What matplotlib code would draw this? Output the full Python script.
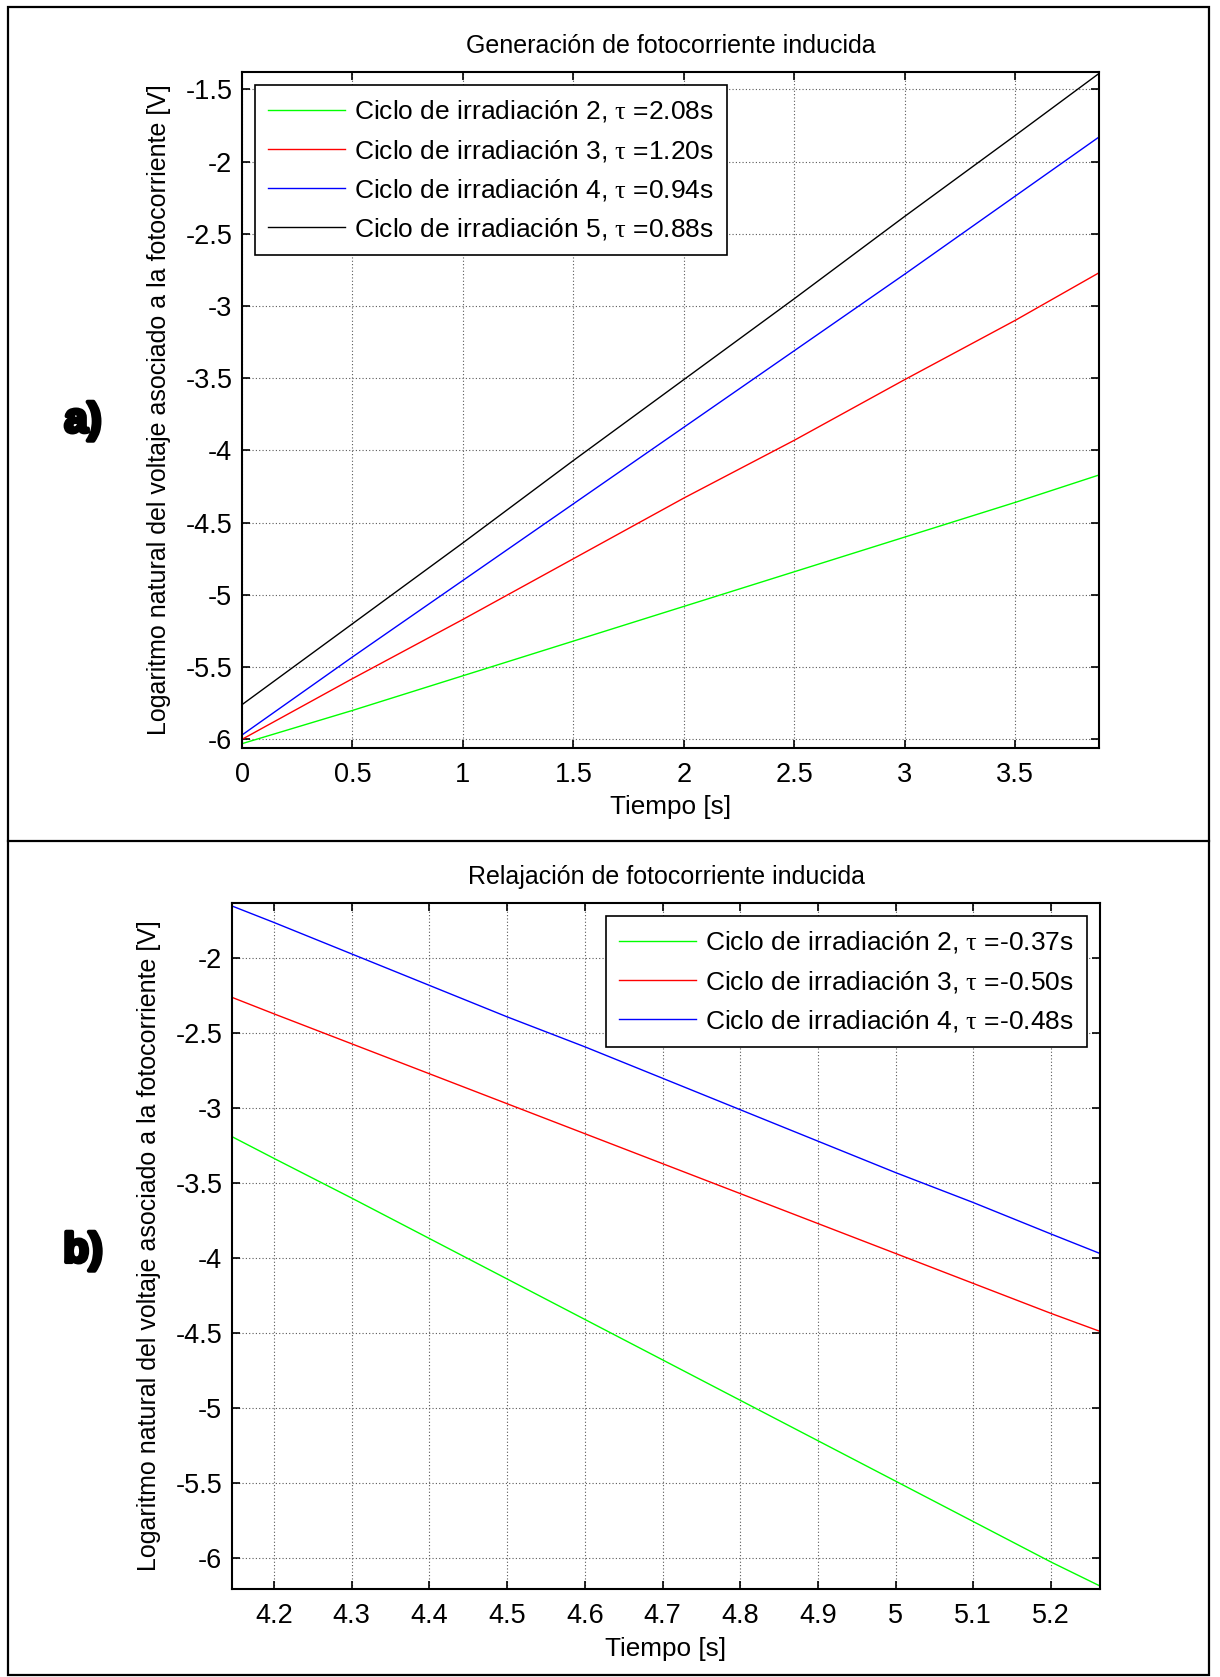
import matplotlib
matplotlib.use("Agg")
import matplotlib.pyplot as plt
from matplotlib.ticker import FormatStrFormatter
from matplotlib.patches import Rectangle
from matplotlib.lines import Line2D
import matplotlib.patheffects as pe

plt.rcParams['font.family'] = ['Liberation Sans', 'DejaVu Sans']
plt.rcParams['axes.unicode_minus'] = False
plt.rcParams['mathtext.fontset'] = 'custom'
plt.rcParams['mathtext.rm'] = 'Liberation Serif'
plt.rcParams['mathtext.it'] = 'Liberation Serif'

# ---------------- data: panel a (generation) ----------------
t_gen = [0, 0.5, 1.0, 1.5, 2.0, 2.5, 3.0, 3.5, 3.88]
gen_c2 = [-6.03, -5.80, -5.56, -5.32, -5.08, -4.84, -4.60, -4.36, -4.17]
gen_c3 = [-6.00, -5.58, -5.17, -4.75, -4.33, -3.93, -3.51, -3.10, -2.77]
gen_c4 = [-5.97, -5.43, -4.90, -4.37, -3.84, -3.31, -2.78, -2.24, -1.83]
gen_c5 = [-5.76, -5.20, -4.64, -4.07, -3.51, -2.95, -2.38, -1.82, -1.39]
gen_labels = [r'Ciclo de irradiación 2, $\tau$ =2.08s',
              r'Ciclo de irradiación 3, $\tau$ =1.20s',
              r'Ciclo de irradiación 4, $\tau$ =0.94s',
              r'Ciclo de irradiación 5, $\tau$ =0.88s']

# ---------------- data: panel b (relaxation) ----------------
t_rel = [4.146, 4.2, 4.3, 4.4, 4.5, 4.6, 4.7, 4.8, 4.9, 5.0, 5.1, 5.2, 5.263]
rel_c2 = [-3.19, -3.335, -3.60, -3.87, -4.14, -4.41, -4.68, -4.95, -5.22, -5.49, -5.76, -6.03, -6.19]
rel_c3 = [-2.26, -2.37, -2.57, -2.77, -2.97, -3.17, -3.37, -3.57, -3.77, -3.97, -4.17, -4.37, -4.49]
rel_c4 = [-1.65, -1.76, -1.97, -2.18, -2.39, -2.59, -2.80, -3.01, -3.22, -3.43, -3.63, -3.84, -3.97]
rel_labels = [r'Ciclo de irradiación 2, $\tau$ =-0.37s',
              r'Ciclo de irradiación 3, $\tau$ =-0.50s',
              r'Ciclo de irradiación 4, $\tau$ =-0.48s']

xticks_a = [0, 0.5, 1, 1.5, 2, 2.5, 3, 3.5]
yticks_a = [-6, -5.5, -5, -4.5, -4, -3.5, -3, -2.5, -2, -1.5]
xticks_b = [4.2, 4.3, 4.4, 4.5, 4.6, 4.7, 4.8, 4.9, 5.0, 5.1, 5.2]
yticks_b = [-6, -5.5, -5, -4.5, -4, -3.5, -3, -2.5, -2]

colors = ['#00ff00', '#ff0000', '#0000ff', '#000000']
ylabel = 'Logaritmo natural del voltaje asociado a la fotocorriente [V]'

W, H = 1220, 1677
fig = plt.figure(figsize=(W / 100, H / 100), dpi=100)

def px(l, t, r, b):
    return [l / W, 1 - b / H, (r - l) / W, (b - t) / H]

ax_a = fig.add_axes(px(242, 72, 1099, 748))
ax_b = fig.add_axes(px(232, 903, 1100, 1589))

def style(ax, xticks, yticks):
    ax.set_xticks(xticks)
    ax.set_yticks(yticks)
    ax.xaxis.set_major_formatter(FormatStrFormatter('%g'))
    ax.yaxis.set_major_formatter(FormatStrFormatter('%g'))
    ax.tick_params(direction='in', length=6, width=1.2, top=True, right=True,
                   labelsize=19.5)
    ax.tick_params(axis='x', pad=10)
    ax.tick_params(axis='y', pad=7)
    ax.grid(True, color='0.35', linestyle=(0, (1, 2)), linewidth=0.8)
    for s in ax.spines.values():
        s.set_linewidth(1.5)

def legend(ax, loc):
    leg = ax.legend(loc=loc, fontsize=19, frameon=True, fancybox=False,
                    edgecolor='black', handlelength=2.9, borderaxespad=0.5,
                    labelspacing=0.5, handletextpad=0.35, borderpad=0.5)
    leg.get_frame().set_linewidth(1.2)
    leg.get_frame().set_alpha(1)

for y, c, lab in zip([gen_c2, gen_c3, gen_c4, gen_c5], colors, gen_labels):
    ax_a.plot(t_gen, y, color=c, lw=1.0, label=lab)
ax_a.set_xlim(0, 3.88)
ax_a.set_ylim(-6.06, -1.38)
style(ax_a, xticks_a, yticks_a)
ax_a.set_title('Generación de fotocorriente inducida', fontsize=18, pad=14)
ax_a.set_xlabel('Tiempo [s]', fontsize=18.8)
ax_a.set_ylabel(ylabel, fontsize=18)
ax_a.xaxis.set_label_coords(0.5, -0.069)
ax_a.yaxis.set_label_coords(-0.083, 0.5)
legend(ax_a, 'upper left')

for y, c, lab in zip([rel_c2, rel_c3, rel_c4], colors, rel_labels):
    ax_b.plot(t_rel, y, color=c, lw=1.0, label=lab)
ax_b.set_xlim(4.146, 5.263)
ax_b.set_ylim(-6.21, -1.63)
style(ax_b, xticks_b, yticks_b)
ax_b.set_title('Relajación de fotocorriente inducida', fontsize=18, pad=14)
ax_b.set_xlabel('Tiempo [s]', fontsize=18.8)
ax_b.set_ylabel(ylabel, fontsize=18)
ax_b.xaxis.set_label_coords(0.5, -0.070)
ax_b.yaxis.set_label_coords(-0.082, 0.5)
legend(ax_b, 'upper right')

# outer frame and divider
fig.add_artist(Rectangle((8 / W, 1 - 1675 / H), (1209 - 8) / W, (1675 - 7) / H,
                         transform=fig.transFigure, fill=False, edgecolor='black', lw=1.6))
fig.add_artist(Line2D([8 / W, 1209 / W], [1 - 841 / H, 1 - 841 / H],
                      transform=fig.transFigure, color='black', lw=1.6))

# panel labels
for txt, ypx in [('a)', 421), ('b)', 1251)]:
    fig.text(83 / W, 1 - ypx / H, txt, fontsize=30, fontweight='bold',
             ha='center', va='center',
             path_effects=[pe.withStroke(linewidth=3, foreground='black')])

fig.savefig('out.png', dpi=100)
